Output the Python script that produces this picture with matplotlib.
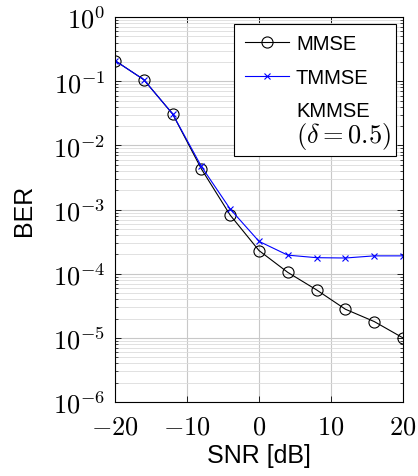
import numpy as np
from matplotlib import pyplot as plt
from matplotlib.lines import Line2D
from matplotlib.ticker import LogLocator, NullFormatter

# SNR points and BER values
snr = [-20, -16, -12, -8, -4, 0, 4, 8, 12, 16, 20]
ber_mmse = [0.21, 0.106, 0.031, 0.0043, 0.00082, 0.00023, 0.000105, 5.6e-5, 2.8e-5, 1.8e-5, 1.0e-5]
ber_tmmse = [0.21, 0.106, 0.031, 0.0047, 0.00102, 0.00032, 0.000195, 0.000178, 0.000176, 0.00019, 0.00019]

plt.rcParams['mathtext.fontset'] = 'cm'
plt.rcParams['font.family'] = ['Liberation Sans', 'DejaVu Sans']

fig = plt.figure(figsize=(4.18, 4.77), dpi=100)
axs = fig.add_axes([0.2751, 0.155, 0.689, 0.807])

axs.plot(snr, ber_mmse, '-k', marker='o', markersize=8, markerfacecolor='none',
         markeredgewidth=0.8, linewidth=0.8, label='MMSE')
axs.plot(snr, ber_tmmse, '-', color='#0000ff', marker='x', markersize=5,
         markeredgewidth=0.8, linewidth=0.8, label='TMMSE')

axs.set_yscale('log')
axs.set_xlim(-20, 20)
axs.set_ylim(1e-6, 1)
axs.set_xticks([-20, -10, 0, 10, 20])
axs.set_xticklabels(['$-20$', '$-10$', '$0$', '$10$', '$20$'])
axs.yaxis.set_minor_locator(LogLocator(base=10, subs=np.arange(2, 10), numticks=20))
axs.yaxis.set_minor_formatter(NullFormatter())
axs.set_yticks([10.0**k for k in range(-6, 1)])
axs.set_yticklabels(['$10^{%d}$' % k for k in range(-6, 1)])

axs.grid(True, which='major', color='#c8c8c8', linewidth=0.8)
axs.grid(True, which='minor', axis='y', color='#dcdcdc', linewidth=0.6)
axs.set_axisbelow(True)

axs.tick_params(which='both', direction='in', top=True, right=True, labelsize=19)
axs.tick_params(axis='x', which='major', pad=9)
axs.tick_params(axis='y', which='major', pad=7)
axs.tick_params(which='major', length=4, width=0.6)
axs.tick_params(which='minor', length=2.5, width=0.5)
for s in axs.spines.values():
    s.set_linewidth(0.8)

axs.set_xlabel('SNR [dB]', fontsize=18, labelpad=3)
axs.set_ylabel('BER', fontsize=18, labelpad=12)

# third entry: no marker/line; blank second line is filled by a larger math text
handles, labels = axs.get_legend_handles_labels()
handles.append(Line2D([], [], color='none'))
labels.append('KMMSE\n' + ' ' * 16)
leg = axs.legend(handles, labels, loc='upper right', fontsize=14.5, fancybox=False,
                 edgecolor='black', framealpha=1, handlelength=2.2,
                 borderaxespad=0.35, borderpad=0.5, labelspacing=0.72,
                 handletextpad=0.35)
leg.get_frame().set_linewidth(0.8)
leg.get_texts()[2].set_linespacing(1.45)
axs.annotate('$(\\delta = 0.5)$', xy=(0, 1), xycoords=leg.get_texts()[2],
             xytext=(0, -13.5), textcoords='offset points',
             ha='left', va='top', fontsize=19, zorder=10)

plt.savefig('out.png', dpi=100)
plt.close(fig)
